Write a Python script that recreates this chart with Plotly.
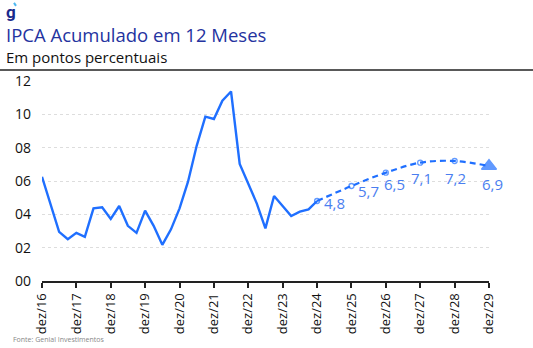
import plotly.graph_objects as go

# Historical quarterly IPCA 12m
hist_dates = [
    "2016-12-01", "2017-03-01", "2017-06-01", "2017-09-01",
    "2017-12-01", "2018-03-01", "2018-06-01", "2018-09-01",
    "2018-12-01", "2019-03-01", "2019-06-01", "2019-09-01",
    "2019-12-01", "2020-03-01", "2020-06-01", "2020-09-01",
    "2020-12-01", "2021-03-01", "2021-06-01", "2021-09-01",
    "2021-12-01", "2022-03-01", "2022-06-01", "2022-09-01",
    "2022-12-01", "2023-03-01", "2023-06-01", "2023-09-01",
    "2023-12-01", "2024-03-01", "2024-06-01", "2024-09-01",
    "2024-12-01",
]
hist_values = [
    6.25, 4.6, 2.95, 2.51,
    2.89, 2.65, 4.36, 4.42,
    3.72, 4.5, 3.31, 2.89,
    4.22, 3.31, 2.17, 3.1,
    4.36, 5.96, 8.11, 9.86,
    9.72, 10.82, 11.37, 7.02,
    5.8, 4.66, 3.16, 5.1,
    4.5, 3.9, 4.16, 4.3,
    4.8,
]

# Forecast (annual)
fc_dates = ["2024-12-01", "2025-12-01", "2026-12-01", "2027-12-01", "2028-12-01", "2029-12-01"]
fc_values = [4.8, 5.7, 6.5, 7.1, 7.2, 6.9]
fc_labels = ["4,8", "5,7", "6,5", "7,1", "7,2", "6,9"]

tick_dates = [f"{y}-12-01" for y in range(2016, 2030)]
tick_labels = [f"dez/{str(y)[2:]}" for y in range(2016, 2030)]
y_ticks = [0, 2, 4, 6, 8, 10, 12]

# label offsets (pixels) relative to the marker
label_dx = [17, 17, 9, 1, 1, 3]
label_dy = [-2, -5, -11, -15, -17, -18]

BLUE = "#1f6fff"
LABEL_BLUE = "#4a7ef0"
FONT = "Open Sans"

fig = go.Figure()
fig.add_trace(go.Scatter(
    x=hist_dates, y=hist_values, mode="lines",
    line=dict(color=BLUE, width=2.4), hoverinfo="skip", showlegend=False,
))
fig.add_trace(go.Scatter(
    x=fc_dates, y=fc_values, mode="lines+markers",
    line=dict(color=BLUE, width=2.2, dash="6px,4px", shape="spline"),
    marker=dict(
        symbol=["circle-open"] * 5 + ["triangle-up"],
        size=[5, 5, 5, 5, 5, 13],
        color=BLUE, line=dict(color=BLUE, width=1.3),
    ),
    cliponaxis=False, hoverinfo="skip", showlegend=False,
))

annotations = []
for d, v, t, dx, dy in zip(fc_dates, fc_values, fc_labels, label_dx, label_dy):
    annotations.append(dict(
        x=d, y=v, xref="x", yref="y", text=t, showarrow=False,
        xshift=dx, yshift=dy, xanchor="center", yanchor="middle",
        font=dict(family=FONT, size=15, color=LABEL_BLUE),
    ))

annotations += [
    dict(text="<b>g</b>", xref="paper", yref="paper", x=-38/447, y=1 + (81-12)/199.7,
         xanchor="left", yanchor="middle", showarrow=False,
         font=dict(family="Roboto", size=17, color="#1a2a8c")),
    dict(text="IPCA Acumulado em 12 Meses", xref="paper", yref="paper",
         x=-38/447, y=1 + (81-34.5)/199.7, xanchor="left", yanchor="middle",
         showarrow=False, font=dict(family=FONT, size=18.5, color="#2433a0")),
    dict(text="Em pontos percentuais", xref="paper", yref="paper",
         x=-38/447, y=1 + (81-57)/199.7, xanchor="left", yanchor="middle",
         showarrow=False, font=dict(family=FONT, size=15, color="#111111")),
    dict(text="Fonte: Genial Investimentos", xref="paper", yref="paper",
         x=-31/447, y=-(339-281)/199.7, xanchor="left", yanchor="middle",
         showarrow=False, font=dict(family=FONT, size=7, color="#888888")),
]

fig.update_layout(
    width=533, height=348,
    margin=dict(l=42, r=44, t=81, b=67),
    paper_bgcolor="white", plot_bgcolor="white",
    font=dict(family=FONT, color="#111111"),
    xaxis=dict(
        type="date",
        range=["2016-12-01", "2029-12-01"],
        tickvals=tick_dates, ticktext=tick_labels,
        tickangle=-90, tickfont=dict(size=13, color="#111111"),
        showgrid=False, showline=True, linecolor="#222222", linewidth=2,
        ticks="outside", ticklen=5, tickwidth=2, tickcolor="#222222",
        zeroline=False,
    ),
    yaxis=dict(
        range=[0, 12], tickvals=y_ticks, tickformat="02d",
        tickfont=dict(size=14, color="#111111"),
        showgrid=True, gridcolor="#dddddd", griddash="dot", gridwidth=1,
        zeroline=False, showline=False, ticks="", ticklabelstandoff=10,
    ),
    shapes=[
        dict(type="line", xref="paper", yref="paper",
             x0=-42/447, x1=(533-42)/447, y0=1 + 11/199.7, y1=1 + 11/199.7,
             line=dict(color="#222222", width=1.5)),
        dict(type="line", xref="paper", yref="paper",
             x0=-28/447, x1=-26/447, y0=1 + (81-3)/199.7, y1=1 + (81-6)/199.7,
             line=dict(color="#4db8f0", width=2)),
    ],
    annotations=annotations,
)

fig.write_html("out.html")
